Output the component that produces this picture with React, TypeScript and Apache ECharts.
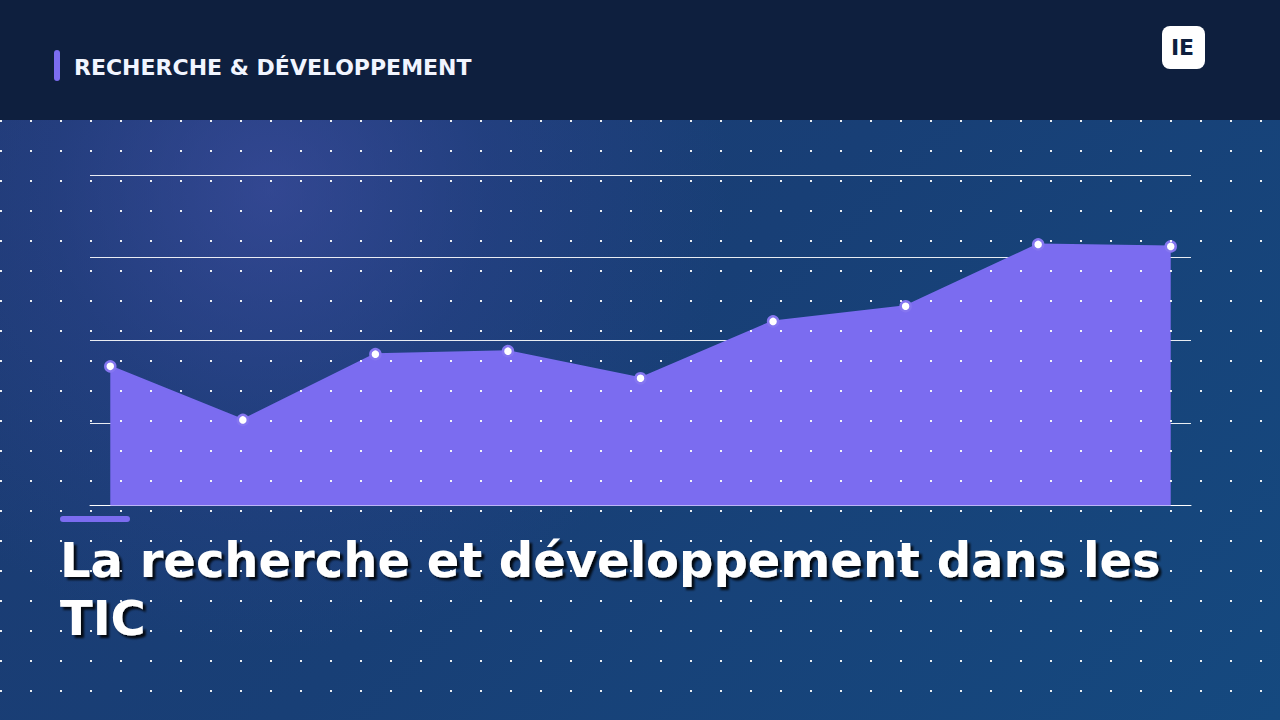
import React, { useEffect, useRef } from "react";
import * as echarts from "echarts";

// Values (no axis labels shown; scale 0–100)
const values: number[] = [42.1, 25.9, 45.8, 46.7, 38.5, 55.7, 60.3, 79.0, 78.4];
const yMin = 0;
const yMax = 100;
const yInterval = 25;

const headerLabel = "RECHERCHE & DÉVELOPPEMENT";
const logoLabel = "IE";
const titleLabel = "La recherche et développement dans les\nTIC";

const ACCENT = "#7b6cf0";
const HEADER_BG = "#0e1f3e";
const FONT = "'DejaVu Sans', 'Noto Sans', sans-serif";

const dotSvg =
  "data:image/svg+xml;utf8," +
  encodeURIComponent(
    "<svg xmlns='http://www.w3.org/2000/svg' width='30' height='30'><rect x='0' y='0' width='2' height='2' fill='white' fill-opacity='0.9'/></svg>"
  );

export default function App() {
  const ref = useRef<HTMLDivElement>(null);

  useEffect(() => {
    document.body.style.margin = "0";
    if (!ref.current) return;
    const chart = echarts.init(ref.current, undefined, { renderer: "svg" });
    const n = values.length;
    chart.setOption({
      animation: false,
      backgroundColor: "transparent",
      grid: { left: 90, right: 89, top: 175, bottom: 214.5, containLabel: false },
      xAxis: {
        type: "value",
        min: -0.153,
        max: n - 1 + 0.153,
        axisLine: { show: true, lineStyle: { color: "#ffffff", width: 1 } },
        axisTick: { show: false },
        axisLabel: { show: false },
        splitLine: { show: false },
      },
      yAxis: {
        type: "value",
        min: yMin,
        max: yMax,
        interval: yInterval,
        axisLine: { show: false },
        axisTick: { show: false },
        axisLabel: { show: false },
        splitLine: { show: true, lineStyle: { color: "rgba(255,255,255,0.9)", width: 1 } },
      },
      series: [
        {
          type: "line",
          data: values.map((v, i) => [i, v]),
          symbol: "circle",
          symbolSize: 10,
          lineStyle: { color: ACCENT, width: 2 },
          areaStyle: { color: ACCENT, opacity: 1 },
          itemStyle: { color: "#ffffff", borderColor: "#8576f0", borderWidth: 2.5 },
          z: 3,
        },
      ],
      graphic: [
        {
          type: "rect",
          z: 100,
          shape: { x: 0, y: 0, width: 1280, height: 120 },
          style: { fill: HEADER_BG },
        },
        {
          type: "rect",
          z: 101,
          shape: { x: 54, y: 50, width: 6, height: 31, r: 3 },
          style: { fill: ACCENT },
        },
        {
          type: "text",
          z: 101,
          x: 74,
          y: 67.5,
          style: {
            text: headerLabel,
            fill: "#f1f5ff",
            font: `bold 22px ${FONT}`,
            verticalAlign: "middle",
            align: "left",
          },
        },
        {
          type: "rect",
          z: 101,
          shape: { x: 1162, y: 26, width: 43, height: 43, r: 8 },
          style: { fill: "#ffffff" },
        },
        {
          type: "text",
          z: 102,
          x: 1182.5,
          y: 47.5,
          style: {
            text: logoLabel,
            fill: HEADER_BG,
            font: `bold 22px ${FONT}`,
            verticalAlign: "middle",
            align: "center",
          },
        },
        {
          type: "rect",
          z: 101,
          shape: { x: 60, y: 516, width: 70, height: 6, r: 3 },
          style: { fill: ACCENT },
        },
        {
          type: "text",
          z: 101,
          x: 60,
          y: 531,
          style: {
            text: titleLabel,
            fill: "#ffffff",
            font: `bold 48px ${FONT}`,
            lineHeight: 58,
            verticalAlign: "top",
            align: "left",
            textShadowColor: "rgba(0,0,0,0.85)",
            textShadowOffsetX: 3,
            textShadowOffsetY: 3,
            textShadowBlur: 2,
          },
        },
      ],
    });
    return () => chart.dispose();
  }, []);

  return (
    <div
      style={{
        position: "fixed",
        left: 0,
        top: 0,
        width: 1280,
        height: 720,
        overflow: "hidden",
        background:
          "radial-gradient(circle at 270px 190px, rgba(70,80,170,0.55) 0px, rgba(60,70,160,0.25) 220px, rgba(40,60,140,0) 460px), linear-gradient(135deg, #1d3a72 0%, #183f76 50%, #15497f 100%)",
      }}
    >
      <div ref={ref} style={{ position: "absolute", left: 0, top: 0, width: 1280, height: 720 }} />
      <div
        style={{
          position: "absolute",
          left: 0,
          top: 120,
          width: 1280,
          height: 600,
          pointerEvents: "none",
          backgroundImage: `url("${dotSvg}")`,
          backgroundRepeat: "repeat",
          backgroundPosition: "0px 0px",
        }}
      />
    </div>
  );
}
